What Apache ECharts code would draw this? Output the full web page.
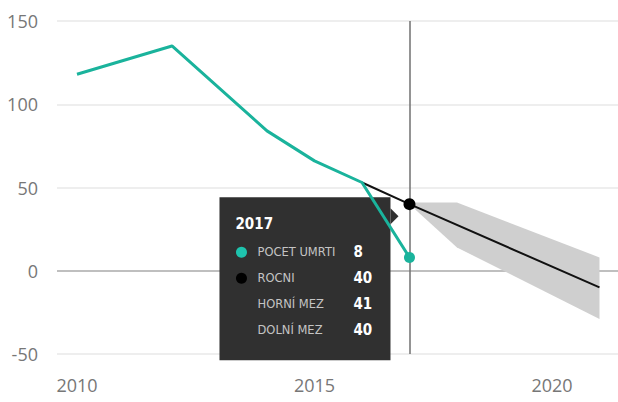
<!DOCTYPE html>
<html>
<head>
<meta charset="utf-8">
<script src="https://cdn.jsdelivr.net/npm/echarts@6/dist/echarts.min.js"></script>
<style>
html,body{margin:0;padding:0;background:#fff;}
#chart{width:618px;height:402px;}
</style>
</head>
<body>
<div id="chart"></div>
<script>
// ---- data ----
const pocetYears = [2010, 2012, 2014, 2015, 2016, 2017];
const pocetUmrti = [118, 135, 84, 66, 53, 8];
const rocniYears = [2016, 2017, 2021];
const rocni = [53, 40, -10];
const bandYears = [2017, 2018, 2021];
const horniMez = [41, 41, 8];
const dolniMez = [40, 14, -29];
const xTickLabels = [2010, 2015, 2020];
const yTicks = [-50, 0, 50, 100, 150];
const hoverYear = 2017;
const seriesNames = ['POCET UMRTI', 'ROCNI', 'HORNÍ MEZ', 'DOLNÍ MEZ'];

const TEAL = '#1ab39c';
const pair = (xs, ys) => xs.map((x, i) => [x, ys[i]]);
const valAt = (xs, ys, x) => ys[xs.indexOf(x)];

const chart = echarts.init(document.getElementById('chart'), null, {renderer: 'svg'});

// band data: [year, lower, upper]
const bandData = bandYears.map((y, i) => [y, dolniMez[i], horniMez[i]]);

const option = {
  animation: false,
  grid: {left: 57, right: 0, top: 21, bottom: 48, containLabel: false},
  xAxis: {
    type: 'value',
    min: 2009.579,
    max: 2021.39,
    axisLine: {show: false},
    axisTick: {show: false},
    splitLine: {show: false},
    axisLabel: {
      customValues: xTickLabels,
      formatter: (v) => String(v),
      margin: 22,
      color: '#777',
      fontSize: 18,
      fontFamily: 'Open Sans'
    }
  },
  yAxis: {
    type: 'value',
    min: yTicks[0],
    max: yTicks[yTicks.length - 1],
    interval: 50,
    axisLine: {show: false},
    axisTick: {show: false},
    axisLabel: {margin: 19, color: '#777', fontSize: 18, fontFamily: 'Open Sans'},
    splitLine: {lineStyle: {color: ['#e8e8e8', '#aaaaaa', '#e8e8e8', '#e8e8e8', '#e8e8e8'], width: 1.5}}
  },
  series: [
    {
      name: 'band',
      type: 'custom',
      data: bandData,
      encode: {x: 0, y: [1, 2]},
      silent: true,
      z: 2,
      renderItem: (params, api) => {
        if (params.dataIndex !== 0) return null;
        const upper = bandData.map(d => api.coord([d[0], d[2]]));
        const lower = bandData.map(d => api.coord([d[0], d[1]])).reverse();
        return {
          type: 'polygon',
          shape: {points: upper.concat(lower)},
          style: {fill: '#cfcfcf'}
        };
      }
    },
    {
      name: seriesNames[1],
      type: 'line',
      data: pair(rocniYears, rocni),
      lineStyle: {color: '#111', width: 2},
      itemStyle: {color: '#000'},
      symbol: 'circle',
      symbolSize: (v) => v[0] === hoverYear ? 12 : 0,
      showSymbol: true,
      z: 4,
      markLine: {
        silent: true,
        symbol: 'none',
        label: {show: false},
        lineStyle: {color: '#707070', width: 1.5, type: 'solid'},
        data: [{xAxis: hoverYear}],
        z: 1
      }
    },
    {
      name: seriesNames[0],
      type: 'line',
      data: pair(pocetYears, pocetUmrti),
      lineStyle: {color: TEAL, width: 3},
      itemStyle: {color: TEAL},
      symbol: 'circle',
      symbolSize: (v) => v[0] === hoverYear ? 11 : 0,
      showSymbol: true,
      z: 5
    }
  ]
};
chart.setOption(option);

// ---- tooltip (static) ----
const p = chart.convertToPixel({gridIndex: 0}, [hoverYear, valAt(rocniYears, rocni, hoverYear)]);
const bx = p[0] - 190, by = p[1] - 7, bw = 171, bh = 163;
const rows = [
  {name: seriesNames[0], v: valAt(pocetYears, pocetUmrti, hoverYear), dot: '#1ec3ad'},
  {name: seriesNames[1], v: valAt(rocniYears, rocni, hoverYear), dot: '#000'},
  {name: seriesNames[2], v: valAt(bandYears, horniMez, hoverYear), dot: null},
  {name: seriesNames[3], v: valAt(bandYears, dolniMez, hoverYear), dot: null}
];
const FONT = '"DejaVu Sans Condensed", "DejaVu Sans"';
const g = [
  {type: 'rect', shape: {x: bx, y: by, width: bw, height: bh}, style: {fill: '#303030'}, z: 3},
  {type: 'polygon', shape: {points: [[bx + bw, by + 11], [bx + bw + 8, by + 19], [bx + bw, by + 27]]}, style: {fill: '#303030'}, z: 3},
  {type: 'text', x: bx + 16, y: by + 27, style: {text: String(hoverYear), fill: '#fff', font: 'bold 15px ' + FONT, verticalAlign: 'middle'}, z: 3}
];
rows.forEach((r, i) => {
  const cy = by + 55 + i * 26;
  if (r.dot) g.push({type: 'circle', shape: {cx: bx + 22, cy: cy, r: 5.5}, style: {fill: r.dot}, z: 3});
  g.push({type: 'text', x: bx + 38, y: cy, style: {text: r.name, fill: '#c4c4c4', font: '11.5px "DejaVu Sans"', verticalAlign: 'middle'}, z: 3});
  g.push({type: 'text', x: bx + 134, y: cy, style: {text: String(r.v), fill: '#fff', font: 'bold 15px ' + FONT, verticalAlign: 'middle'}, z: 3});
});
chart.setOption({graphic: {elements: g}});
</script>
</body>
</html>
